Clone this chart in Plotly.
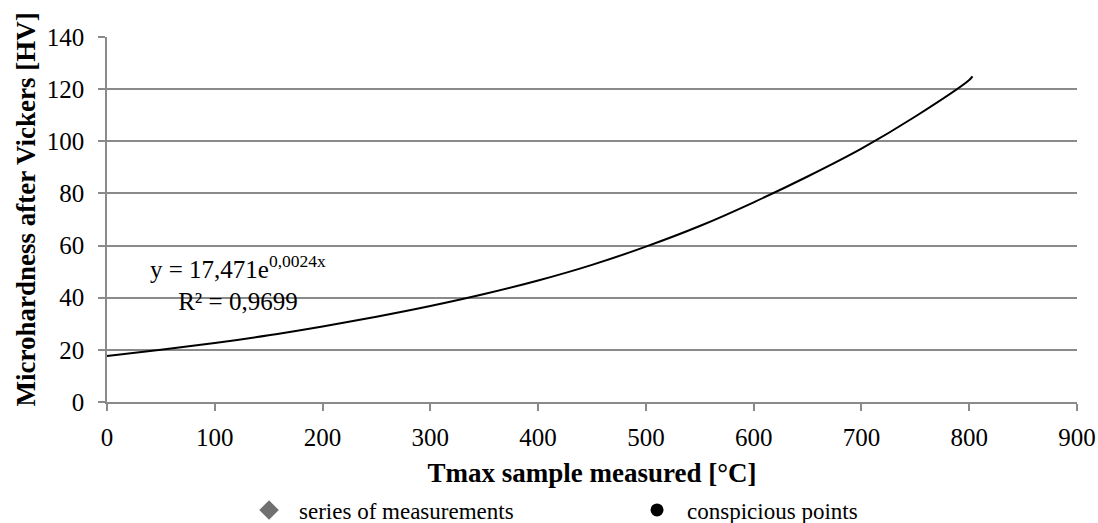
import plotly.graph_objects as go

# Trendline (Tmax [°C] -> HV)
trend_x = [0, 50, 100, 150, 200, 250, 300, 350, 400, 450, 500, 550, 600, 650, 700, 750, 800, 803]
trend_y = [17.6, 20.0, 22.6, 25.6, 29.0, 32.7, 36.8, 41.4, 46.6, 52.6, 59.6, 67.5, 76.6, 86.5, 97.2, 109.5, 123.5, 124.9]

legend_names = ["series of measurements", "conspicious points"]
x_ticks = [0, 100, 200, 300, 400, 500, 600, 700, 800, 900]
y_ticks = [0, 20, 40, 60, 80, 100, 120, 140]

eq_text = "y = 17,471e<sup>0,0024x</sup><br>R² = 0,9699"
x_title = "<b>Tmax sample measured [°C]</b>"
y_title = "<b>Microhardness after Vickers [HV]</b>"

FONT = "Liberation Serif, Times New Roman, serif"
GRID = "#8a8a8a"

fig = go.Figure()
fig.add_trace(go.Scatter(x=trend_x, y=trend_y, mode="lines",
                         line=dict(color="black", width=2, shape="spline", smoothing=1.0),
                         showlegend=False, hoverinfo="skip"))
fig.add_trace(go.Scatter(x=[None], y=[None], mode="markers", name=legend_names[0],
                         marker=dict(symbol="diamond", color="#707070", size=15)))
fig.add_trace(go.Scatter(x=[None], y=[None], mode="markers", name=legend_names[1],
                         marker=dict(symbol="circle", color="black", size=13)))

fig.add_annotation(x=122, y=45.6, xref="x", yref="y", text=eq_text, showarrow=False,
                   align="center", font=dict(family=FONT, size=25, color="black"))

# y-axis title (rotated annotation so it can sit slightly above centre, as in the reference)
fig.add_annotation(x=0, y=0.5, xref="paper", yref="paper", text=y_title, textangle=-90,
                   showarrow=False, xanchor="center", yanchor="middle",
                   xshift=-82, yshift=10,
                   font=dict(family=FONT, size=27, color="black"))

fig.update_layout(
    width=1098, height=523,
    margin=dict(l=107, r=21, t=37, b=121, autoexpand=False),
    paper_bgcolor="white", plot_bgcolor="white",
    font=dict(family=FONT, size=25, color="black"),
    showlegend=True,
    legend=dict(orientation="h", xref="container", yref="container",
                x=0.2177, y=0.0249, xanchor="left", yanchor="middle",
                entrywidth=323, entrywidthmode="pixels", itemwidth=50,
                font=dict(family=FONT, size=23, color="black"),
                bgcolor="rgba(0,0,0,0)"),
    xaxis=dict(range=[0, 900], tickvals=x_ticks, ticktext=[str(v) for v in x_ticks],
               automargin=False,
               showgrid=False, zeroline=False, showline=True, linecolor=GRID, linewidth=1.5,
               ticks="outside", ticklen=7, tickcolor=GRID, tickwidth=1.5,
               ticklabelstandoff=5,
               tickfont=dict(family=FONT, size=25, color="black"),
               title=dict(text=x_title, standoff=13,
                          font=dict(family=FONT, size=27, color="black"))),
    yaxis=dict(range=[0, 140], tickvals=y_ticks, ticktext=[str(v) for v in y_ticks],
               automargin=False,
               showgrid=True, gridcolor=GRID, gridwidth=1.5, zeroline=False,
               showline=True, linecolor=GRID, linewidth=1.5,
               ticks="outside", ticklen=7, tickcolor=GRID, tickwidth=1.5,
               ticklabelstandoff=9,
               tickfont=dict(family=FONT, size=25, color="black")),
)

# remove the browser's default 8px page margin so the figure fills the window exactly
fig.write_html("out.html", config={"displayModeBar": False},
               post_script="document.body.style.margin='0';document.body.style.overflow='hidden';")
